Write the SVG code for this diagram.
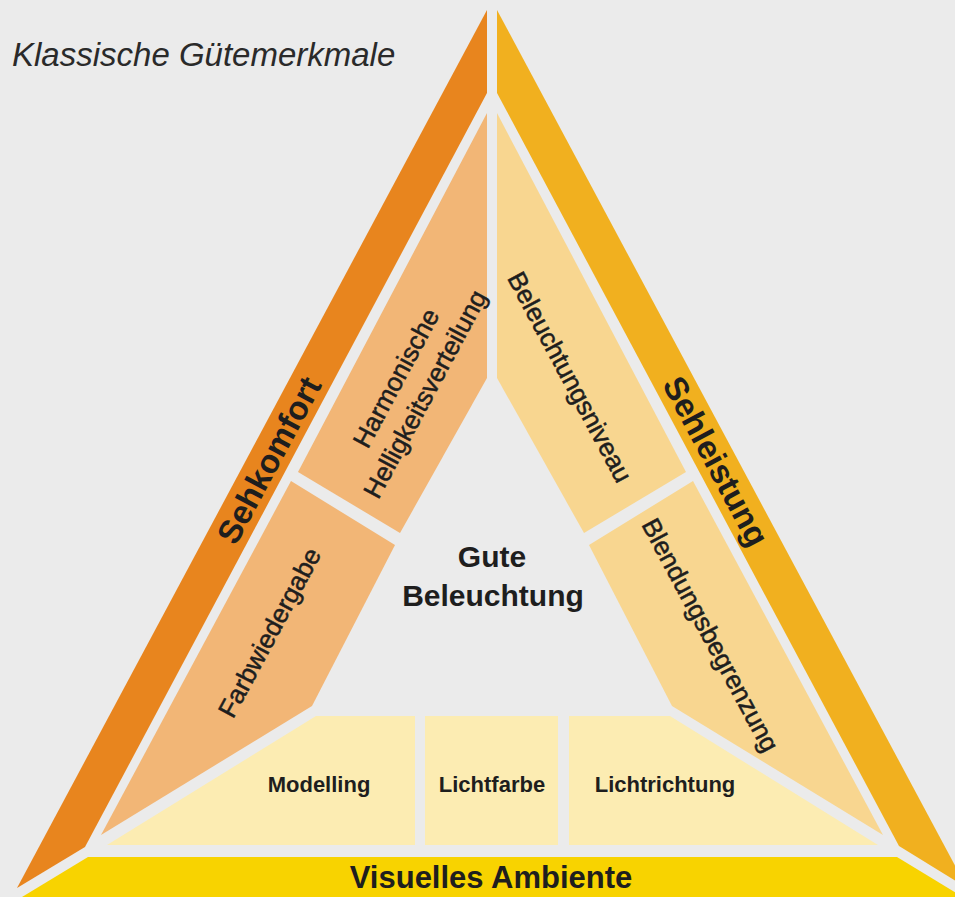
<svg xmlns="http://www.w3.org/2000/svg" width="955" height="897" viewBox="0 0 955 897">
<style>
text{font-family:"Liberation Sans",Arial,sans-serif;fill:#1e1e1e}
.big{font-size:33px;font-weight:bold}
.mid{font-size:26px;font-weight:normal;stroke:#1e1e1e;stroke-width:0.5}
.sm{font-size:22px;font-weight:bold}
.ctr{font-size:30px;font-weight:bold}
.c{text-anchor:middle}
.bandL{fill:#E8851E}
.bandR{fill:#F1B01F}
.pL{fill:#F2B676}
.pR{fill:#F8D690}
.pB{fill:#FCECB2}
.bandB{fill:#F8D300}
</style>
<rect width="955" height="897" fill="#EBEBEB"/>
<text x="12" y="66" style="font-size:33px;font-style:italic;fill:#2a2a2a">Klassische Gütemerkmale</text>

<g id="sehkomfort">
<polygon class="bandL" points="487,10 487,93 85,847 17,888"/>
<text class="big c" transform="translate(268.5,460) rotate(-61.8)" y="12">Sehkomfort</text>
</g>
<g id="sehleistung">
<polygon class="bandR" points="497,10 497,93 899,846 967,888"/>
<text class="big c" transform="translate(716.5,461) rotate(61.8)" y="12">Sehleistung</text>
</g>
<g id="harmonische">
<polygon class="pL" points="487,113 487,378 400,533 298,472"/>
<text class="mid c" transform="translate(396,378) rotate(-61.8)" y="9">Harmonische</text>
<text class="mid c" transform="translate(425,394) rotate(-61.8)" y="9">Helligkeitsverteilung</text>
</g>
<g id="farbwiedergabe">
<polygon class="pL" points="291,481 395,545 312,706 101,835"/>
<text class="mid c" transform="translate(269.5,632.5) rotate(-61.8)" y="9">Farbwiedergabe</text>
</g>
<g id="beleuchtungsniveau">
<polygon class="pR" points="497,113 497,378 584,533 686,472"/>
<text class="mid c" transform="translate(570,377) rotate(61.8)" y="9">Beleuchtungsniveau</text>
</g>
<g id="blendungsbegrenzung">
<polygon class="pR" points="693,481 589,545 672,706 883,835"/>
<text class="mid c" transform="translate(710.5,635) rotate(61.8)" y="9">Blendungsbegrenzung</text>
</g>
<g id="modelling">
<polygon class="pB" points="316,716 415,716 415,845 107,845"/>
<text class="sm c" x="319" y="792">Modelling</text>
</g>
<g id="lichtfarbe">
<polygon class="pB" points="425,716 558,716 558,845 425,845"/>
<text class="sm c" x="492" y="792">Lichtfarbe</text>
</g>
<g id="lichtrichtung">
<polygon class="pB" points="569,716 670,716 878,845 569,845"/>
<text class="sm c" x="665" y="792">Lichtrichtung</text>
</g>
<g id="gute-beleuchtung">
<text class="ctr c" x="492" y="567">Gute</text>
<text class="ctr c" x="493" y="606">Beleuchtung</text>
</g>
<g id="visuelles-ambiente">
<polygon class="bandB" points="88,857 897,857 963,897 22,897"/>
<text class="c" x="491" y="888" style="font-size:31px;font-weight:bold">Visuelles Ambiente</text>
</g>
<g id="connectors"/>
</svg>
